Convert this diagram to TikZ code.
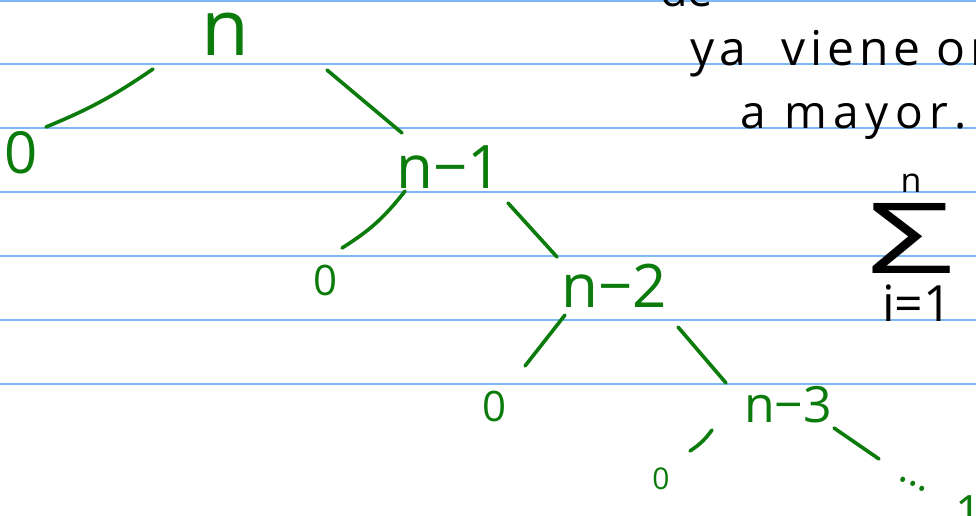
\documentclass[tikz,border=0pt]{standalone}
\usepackage{fontspec}
\usepackage{graphicx}
\usepackage{tikz}
\usetikzlibrary{positioning}
\setmainfont{Open Sans}
\definecolor{ruleblue}{HTML}{7DB9F7}
\definecolor{inkgreen}{HTML}{0B7B0B}
\newcommand{\sz}[1]{\fontsize{#1}{#1}\selectfont}

\begin{document}
\begin{tikzpicture}[
    x=1pt, y=-1pt,
    rule/.style={draw=ruleblue, line width=1.8pt},
    branch/.style={draw=inkgreen, line width=3.6pt, line cap=round},
    lbl/.style={text=inkgreen, inner sep=0pt},
    note/.style={text=black, inner sep=0pt, anchor=base west}
]
\useasboundingbox (0,0) rectangle (976,515);
% lined paper
\foreach \y in {1,64,128,192,256,320,384}
    \draw[rule] (0,\y) -- (976,\y);

% recursion tree
\node[lbl, font=\sz{78}] (root) at (225,34) {n};
\node[lbl, font=\sz{58}] (z1) at (21,153) {0};
\node[lbl, font=\sz{60}] (n1) at (449,167) {n−1};
\node[lbl, font=\sz{42}] (z2) at (326,280) {0};
\node[lbl, font=\sz{60}] (n2) at (614,286) {n−2};
\node[lbl, font=\sz{42}] (z3) at (494,406) {0};
\node[lbl, font=\sz{50}] (n3) at (788,405) {n−3};
\node[lbl, font=\sz{30}] (z4) at (661,479) {0};
\node[lbl, font=\sz{40}, rotate=-25] (dots) at (913,484) {...};
\node[lbl, font=\sz{46}] (last) at (969,512) {1};

\draw[branch] ([shift={(-72,35)}]root.center) to[bend left=6] ([shift={(25,-26)}]z1.center);
\draw[branch] ([shift={(102,36)}]root.center) -- ([shift={(-47,-34)}]n1.center);
\draw[branch] ([shift={(-44,24)}]n1.center) to[bend left=10] ([shift={(16,-32)}]z2.center);
\draw[branch] ([shift={(59,36)}]n1.center) -- ([shift={(-57,-29)}]n2.center);
\draw[branch] ([shift={(-49,29)}]n2.center) -- ([shift={(31,-40)}]z3.center);
\draw[branch] ([shift={(64,41)}]n2.center) -- ([shift={(-62,-22)}]n3.center);
\draw[branch] ([shift={(-76,25)}]n3.center) to[bend left=10] ([shift={(29,-28)}]z4.center);
\draw[branch] ([shift={(46,23)}]n3.center) -- ([shift={(-34,-25)}]dots.center);

% side notes
\node[note, font=\sz{45}] (de) at (660,6) {de};
\node[note, font=\sz{48}\addfontfeature{LetterSpace=10}] (viene) at (690,65) {ya\kern36pt viene\kern16pt or};
\node[note, font=\sz{46}\addfontfeature{LetterSpace=14}] (mayor) at (740,128) {a mayor.};
\node[inner sep=0pt, font=\sz{34}] (top) at (911,183) {n};
\node[inner sep=0pt] (sigma) at (911,238) {\resizebox{86pt}{70pt}{Σ}};
\node[inner sep=0pt, font=\sz{50}] (low) at (917,303) {i=1};
\end{tikzpicture}
\end{document}
